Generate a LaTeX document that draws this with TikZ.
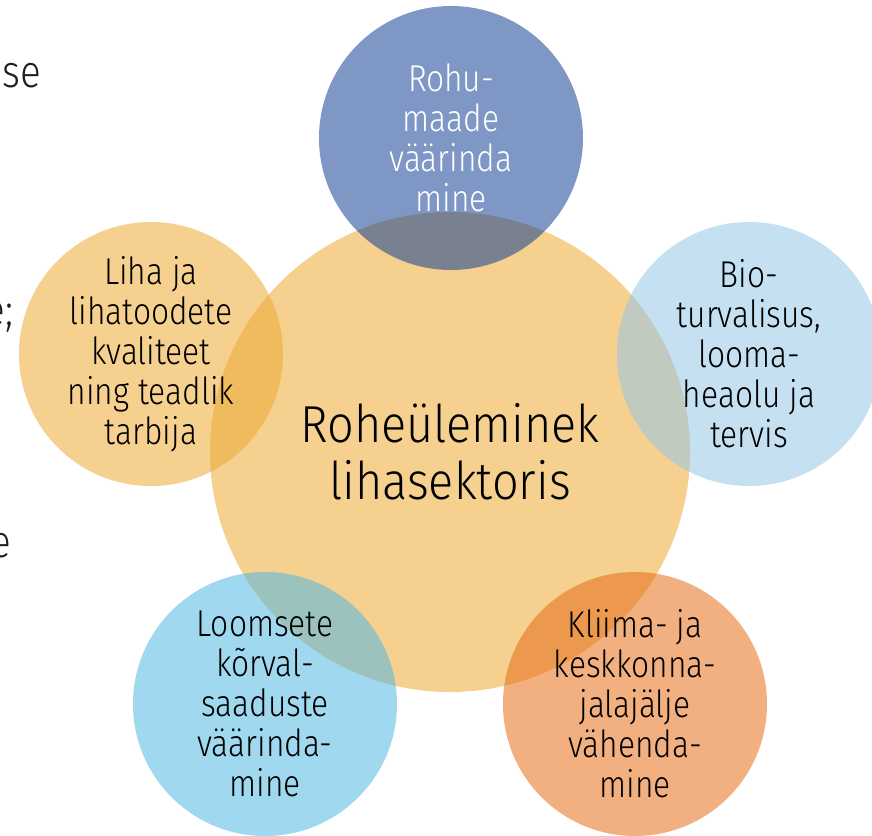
\documentclass[tikz,border=0pt]{standalone}
\usepackage{fontspec}
\setmainfont{Fira Sans Light}[FakeStretch=0.85]
\newfontfamily\hubfont{Fira Sans Light}[FakeStretch=0.9]
\definecolor{hubc}{RGB}{236,169,51}
\definecolor{rohuc}{RGB}{20,65,147}
\definecolor{bioc}{RGB}{149,198,229}
\definecolor{korc}{RGB}{82,184,227}
\definecolor{kliimac}{RGB}{231,109,24}
\definecolor{sidec}{RGB}{30,30,30}

\begin{document}
\begin{tikzpicture}[x=0.75pt,y=-0.75pt,
    blob/.style={circle, inner sep=0pt, minimum size=198pt, fill opacity=0.55},
    hubblob/.style={blob, minimum size=360pt},
    lbl/.style={align=center, font=\fontsize{28}{30}\selectfont},
    hublbl/.style={align=center, font=\hubfont\fontsize{39}{43}\selectfont},
    side/.style={anchor=base east, text=sidec, font=\fontsize{34}{36}\selectfont}]
    \clip (0,0) rectangle (872,836);
    % cut off words at the left edge
    \node[side] (s1) at (46,87) {use};
    \node[side] (s2) at (18,325) {e;};
    \node[side] (s3) at (16,557) {e};
    % circles
    \node[hubblob, fill=hubc] (hub) at (450,452) {};
    \node[blob, fill=rohuc] (rohu) at (451,138) {};
    \node[blob, fill=hubc] (liha) at (151,354) {};
    \node[blob, fill=bioc] (bio) at (749,354) {};
    \node[blob, fill=korc] (kor) at (265,704) {};
    \node[blob, fill=kliimac] (kliima) at (635,704) {};
    % texts
    \node[hublbl] (hub-t) at (hub) {Roheüleminek\\lihasektoris};
    \node[lbl, text=white] (rohu-t) at (rohu) {Rohu-\\maade\\väärinda\\mine};
    \node[lbl] (liha-t) at (liha) {Liha ja\\lihatoodete\\kvaliteet\\ning teadlik\\tarbija};
    \node[lbl] (bio-t) at (bio) {Bio-\\turvalisus,\\looma-\\heaolu ja\\tervis};
    \node[lbl] (kor-t) at (kor) {Loomsete\\kõrval-\\saaduste\\väärinda-\\mine};
    \node[lbl] (kliima-t) at (kliima) {Kliima- ja\\keskkonna-\\jalajälje\\vähenda-\\mine};
\end{tikzpicture}
\end{document}
